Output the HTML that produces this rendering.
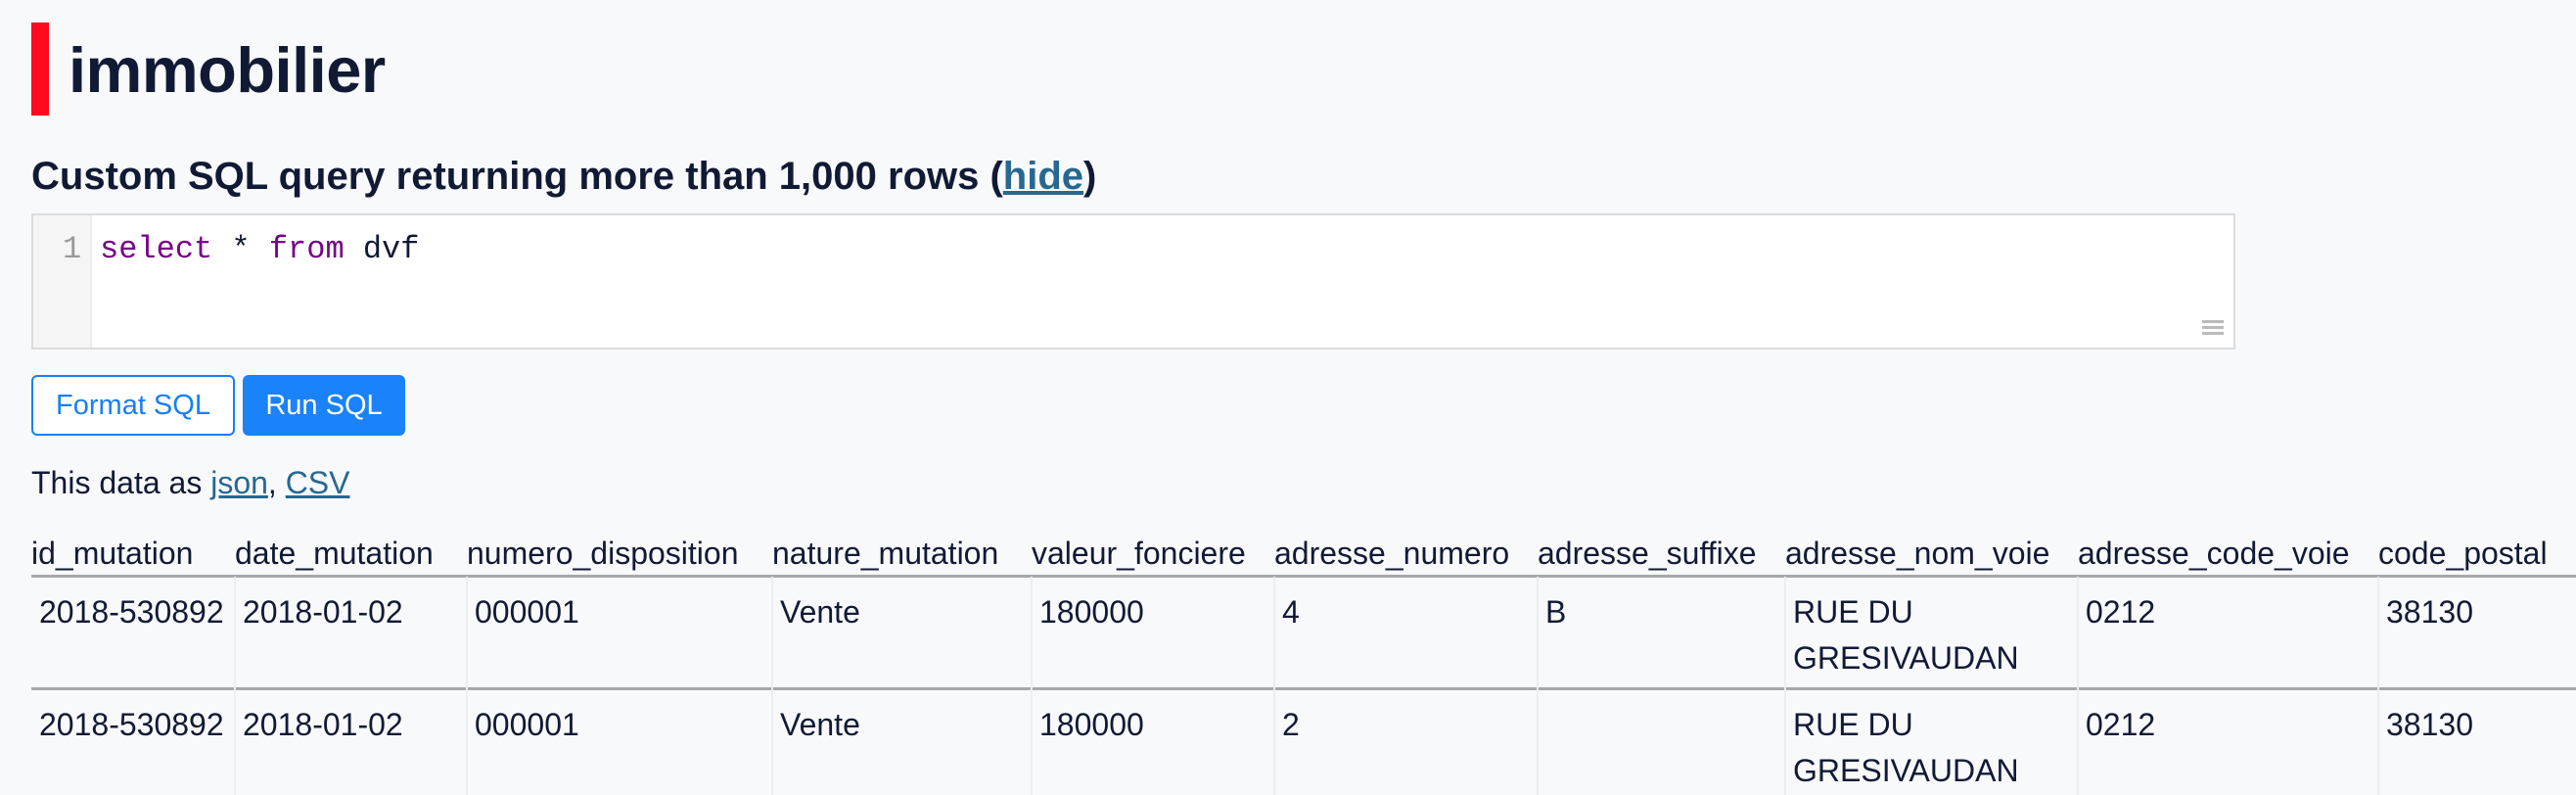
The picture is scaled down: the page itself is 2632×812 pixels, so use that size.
<!DOCTYPE html>
<html><head><meta charset="utf-8"><style>
html,body{margin:0;padding:0}
body{width:2632px;height:812px;background:#f8f9fb;position:relative;overflow:hidden;font-family:"Liberation Sans",Helvetica,Arial,sans-serif;color:#111a35}
.a{position:absolute;white-space:nowrap}
a{color:#276890;text-decoration:underline}
.mono{font-family:"Liberation Mono","DejaVu Sans Mono",monospace}
.h{font-size:32px;top:547px}
.d{font-size:32px;line-height:47px}
.vl{position:absolute;width:2px;background:#eceef1;top:589px;height:223px}
</style></head><body>
<div class="a" style="left:32px;top:23px;width:18px;height:95px;background:#ff0a1e"></div>
<div class="a" style="left:70px;top:34px;font-size:65px;font-weight:bold;letter-spacing:-0.5px">immobilier</div>
<div class="a" style="left:32px;top:158px;font-size:40px;font-weight:bold">Custom SQL query returning more than 1,000 rows (<a>hide</a>)</div>
<div class="a" style="left:32px;top:218px;width:2248px;height:135px;background:#fff;border:2px solid #dcdcdc"></div>
<div class="a" style="left:34px;top:220px;width:58px;height:135px;background:#f5f5f5;border-right:2px solid #ececec"></div>
<div class="a mono" style="left:64px;top:236px;font-size:32px;color:#999">1</div>
<div class="a mono" style="left:102px;top:236px;font-size:32px"><span style="color:#770088">select</span> * <span style="color:#770088">from</span> dvf</div>
<div class="a" style="left:2250px;top:327px;width:22px;height:3px;background:#bbb;box-shadow:0 6px 0 #bbb,0 12px 0 #bbb"></div>
<div class="a" style="left:32px;top:383px;width:204px;height:58px;border:2px solid #1a7ef5;border-radius:6px;background:#fff;color:#1a7ef5;font-size:29px;line-height:58px;text-align:center">Format SQL</div>
<div class="a" style="left:248px;top:383px;width:166px;height:62px;border-radius:6px;background:#1a82fb;color:#fff;font-size:29px;line-height:62px;text-align:center">Run SQL</div>
<div class="a" style="left:32px;top:475px;font-size:32px">This data as <a>json</a>, <a>CSV</a></div>

<div class="a h" style="left:32px">id_mutation</div>
<div class="a h" style="left:240px">date_mutation</div>
<div class="a h" style="left:477px">numero_disposition</div>
<div class="a h" style="left:789px">nature_mutation</div>
<div class="a h" style="left:1054px">valeur_fonciere</div>
<div class="a h" style="left:1302px">adresse_numero</div>
<div class="a h" style="left:1571px">adresse_suffixe</div>
<div class="a h" style="left:1824px">adresse_nom_voie</div>
<div class="a h" style="left:2123px">adresse_code_voie</div>
<div class="a h" style="left:2430px">code_postal</div>

<div class="a" style="left:32px;top:587px;width:2600px;height:3px;background:#a8a8a8"></div>
<div class="a" style="left:32px;top:702px;width:2600px;height:3px;background:#a8a8a8"></div>
<div class="vl" style="left:239px"></div>
<div class="vl" style="left:476px"></div>
<div class="vl" style="left:788px"></div>
<div class="vl" style="left:1053px"></div>
<div class="vl" style="left:1301px"></div>
<div class="vl" style="left:1570px"></div>
<div class="vl" style="left:1823px"></div>
<div class="vl" style="left:2122px"></div>
<div class="vl" style="left:2429px"></div>

<div class="a d" style="left:40px;top:602px">2018-530892</div>
<div class="a d" style="left:248px;top:602px">2018-01-02</div>
<div class="a d" style="left:485px;top:602px">000001</div>
<div class="a d" style="left:797px;top:602px">Vente</div>
<div class="a d" style="left:1062px;top:602px">180000</div>
<div class="a d" style="left:1310px;top:602px">4</div>
<div class="a d" style="left:1579px;top:602px">B</div>
<div class="a d" style="left:1832px;top:602px">RUE DU<br>GRESIVAUDAN</div>
<div class="a d" style="left:2131px;top:602px">0212</div>
<div class="a d" style="left:2438px;top:602px">38130</div>

<div class="a d" style="left:40px;top:717px">2018-530892</div>
<div class="a d" style="left:248px;top:717px">2018-01-02</div>
<div class="a d" style="left:485px;top:717px">000001</div>
<div class="a d" style="left:797px;top:717px">Vente</div>
<div class="a d" style="left:1062px;top:717px">180000</div>
<div class="a d" style="left:1310px;top:717px">2</div>
<div class="a d" style="left:1832px;top:717px">RUE DU<br>GRESIVAUDAN</div>
<div class="a d" style="left:2131px;top:717px">0212</div>
<div class="a d" style="left:2438px;top:717px">38130</div>
</body></html>
